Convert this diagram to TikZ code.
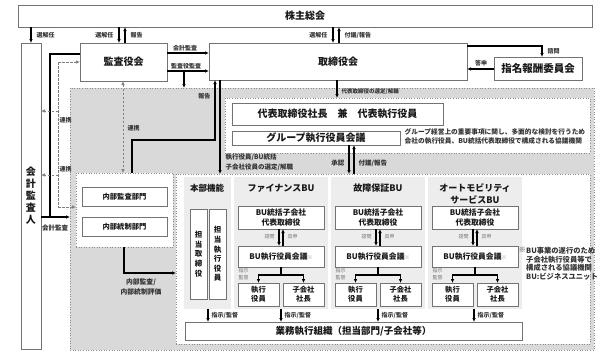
\documentclass[tikz,border=0pt]{standalone}
\usepackage{fontspec}
\setmainfont{Noto Sans CJK JP}
\usetikzlibrary{arrows.meta}
\newcommand\B[7]{\node[#1,anchor=north west,minimum width={#4pt-#2pt},minimum height={#5pt-#3pt}] (#6) at (#2,#3) {#7};}
\tikzset{
  box/.style={draw=black!55, fill=white, line width=0.6pt, inner sep=0pt, outer sep=0pt, align=center, text=black!90},
  wreg/.style={draw=black!45, fill=white, dotted, line width=0.6pt, inner sep=0pt, outer sep=0pt},
  greg/.style={draw=black!45, fill=black!15, dotted, line width=0.6pt, inner sep=0pt, outer sep=0pt},
  big/.style={font=\bfseries\fontsize{10}{12}\selectfont},
  ttl/.style={font=\bfseries\fontsize{9}{12}\selectfont, align=center, inner sep=0pt, text=black!90},
  mid/.style={font=\bfseries\fontsize{7.8}{9.5}\selectfont},
  sml/.style={font=\bfseries\fontsize{7.3}{9}\selectfont},
  vert/.style={font=\bfseries\fontsize{7.5}{9.6}\selectfont},
  thk/.style={line width=1.6pt, black},
  thn/.style={line width=1.1pt, black},
  dsh/.style={line width=0.9pt, black!50, dash pattern=on 2.5pt off 1.5pt},
  lab/.style={font=\bfseries\fontsize{6}{7.5}\selectfont, inner sep=0.5pt, text=black!80, align=left},
  tny/.style={font=\fontsize{5}{6.5}\selectfont, inner sep=0.3pt, text=black!55, align=left},
  >={Latex[length=4pt,width=3.6pt]}
}
\begin{document}
\begin{tikzpicture}[x=1pt,y=-1pt]
\fill[white] (0,0) rectangle (606,354);
\useasboundingbox (0,0) rectangle (606,354);

% top level boxes
\B{box,big}{18}{5}{592}{27}{kabu}{株主総会}
\B{box,font=\bfseries\fontsize{10}{12}\selectfont}{21}{43}{41}{349}{kaikei}{会\\計\\監\\査\\人}
\B{box,big}{80}{43}{167}{81}{kansa}{監査役会}
\B{box,big}{209}{43}{467}{80}{tori}{取締役会}
\B{box,font=\bfseries\fontsize{10.5}{12}\selectfont}{494}{57}{582}{80}{shimei}{指名報酬委員会}

% regions
\B{greg}{70}{88}{594}{350}{gray}{}
\B{wreg}{225}{98}{590}{153}{top}{}
\B{box,big}{232}{103}{443}{125}{daihyo}{代表取締役社長\hspace{1em}兼\hspace{1em}代表執行役員}
\B{box,big}{232}{131}{400}{145}{group}{グループ執行役員会議}
\node[lab,font=\bfseries\fontsize{6.7}{9}\selectfont,anchor=north west] (descr) at (404,128) {グループ経営上の重要事項に関し、多面的な検討を行うため\\会社の執行役員、BU統括代表取締役で構成される協議機関};

\B{wreg}{76}{173}{173}{247}{naibu}{}
\B{box,sml}{82}{187}{167}{206}{kansabu}{内部監査部門}
\B{box,sml}{82}{217}{167}{236}{toseibu}{内部統制部門}

\B{wreg}{176}{174}{590}{344}{bu}{}
\fill[black!7] (184,177) rectangle (231,309);
\fill[black!7] (234,177) rectangle (328,309);
\fill[black!7] (331,177) rectangle (425,309);
\fill[black!7] (428,177) rectangle (522,309);

% column titles
\node[ttl,font=\bfseries\fontsize{8.5}{12}\selectfont] (thon) at (207,188) {本部機能};
\node[ttl] (tfin) at (281,188) {ファイナンスBU};
\node[ttl] (tkos) at (378,188) {故障保証BU};
\node[ttl] (taut) at (475,194) {オートモビリティ\\サービスBU};

% honbu boxes
\B{box,vert}{190}{209}{207}{299}{htori}{担\\当\\取\\締\\役}
\B{box,vert}{209}{209}{226}{299}{hshik}{担\\当\\執\\行\\役\\員}

% Finance
\B{box,mid}{238}{206}{324}{229}{fA}{BU統括子会社\\代表取締役}
\B{box,mid}{238}{246}{324}{267}{fB}{BU執行役員会議{\mdseries\color{black!45}\fontsize{5}{6}\selectfont ※}}
\B{box,sml}{238}{283}{279}{306}{fC}{執行\\役員}
\B{box,sml}{283}{283}{324}{306}{fD}{子会社\\社長}
% Kosho
\B{box,mid}{335}{206}{421}{229}{kA}{BU統括子会社\\代表取締役}
\B{box,mid}{335}{246}{421}{267}{kB}{BU執行役員会議{\mdseries\color{black!45}\fontsize{5}{6}\selectfont ※}}
\B{box,sml}{335}{283}{376}{306}{kC}{執行\\役員}
\B{box,sml}{380}{283}{421}{306}{kD}{子会社\\社長}
% Auto
\B{box,mid}{432}{206}{518}{229}{aA}{BU統括子会社\\代表取締役}
\B{box,mid}{432}{246}{518}{267}{aB}{BU執行役員会議{\mdseries\color{black!45}\fontsize{5}{6}\selectfont ※}}
\B{box,sml}{432}{283}{473}{306}{aC}{執行\\役員}
\B{box,sml}{477}{283}{518}{306}{aD}{子会社\\社長}

\foreach \p/\cx in {f/281,k/378,a/475}{
  \draw[thn,->] (\p A.south -| {\cx-2},0) -- (\p B.north -| {\cx-2},0);
  \draw[thn,->] (\p B.north -| {\cx+2},0) -- (\p A.south -| {\cx+2},0);
  \node[tny,anchor=east] at ({\cx-6},237) {諮問};
  \node[tny,anchor=west] at ({\cx+6},237) {具申};
  \draw[thn] (\p B.south) -- ++(0,8) coordinate (\p br);
  \draw[thn,->] (\p br) -| (\p C.north);
  \draw[thn,->] (\p br) -| (\p D.north);
  \node[tny,anchor=north west] at ({\cx-43},268) {指示\\監督};
}

% note
\node[lab,font=\bfseries\fontsize{7.3}{8.7}\selectfont,anchor=north east,inner sep=0pt] (kome) at (526,247) {※};
\node[lab,font=\bfseries\fontsize{7.3}{8.7}\selectfont,anchor=north west,inner sep=0pt] (note) at (526,247) {BU事業の遂行のため\\子会社執行役員等で\\構成される協議機関\\BU:ビジネスユニット};

% gyomu
\B{box,font=\bfseries\fontsize{9.5}{12}\selectfont}{185}{322}{522}{340}{gyomu}{業務執行組織（担当部門/子会社等）}
\foreach \x in {208,281,378,474}{
  \coordinate (s\x) at (\x,309);
  \draw[thn,->] (s\x) -- (gyomu.north -| \x,0);
  \node[lab,anchor=west] at (\x+3,315) {指示/監督};
}

% shareholders arrows
\draw[thn,->] (kabu.south -| 31,0) -- (kaikei.north -| 31,0);
\node[lab,anchor=west] at (36,35) {選解任};
\draw[thn,->] (kabu.south -| 119,0) -- (kansa.north -| 119,0);
\draw[thn,->] (kansa.north -| 125,0) -- (kabu.south -| 125,0);
\node[lab,anchor=east] at (114,35) {選解任};
\node[lab,anchor=west] at (130,35) {報告};
\draw[thn,->] (kabu.south -| 333,0) -- (tori.north -| 333,0);
\draw[thn,->] (tori.north -| 339,0) -- (kabu.south -| 339,0);
\node[lab,anchor=east] at (328,35) {選解任};
\node[lab,anchor=west] at (344,35) {付議/報告};

% kansa -> tori
\draw[thn,->] (kansa.east |- 0,53) -- (tori.west |- 0,53);
\node[lab] at (185,48) {会計監査};
\draw[thn,->] (kansa.east |- 0,71) -- (tori.west |- 0,71);
\node[lab] at (186,66) {監査役監査};
\coordinate (kb) at (184,71);
\draw[thn,->] (kb) -- (gray.north -| kb);

% tori <-> shimei
\draw[thn,->] (tori.east |- 0,46) -| (shimei.north -| 542,0);
\node[lab,anchor=west] at (547,51) {諮問};
\draw[thn,->] (shimei.west |- 0,69) -- (tori.east |- 0,69);
\node[lab] at (481,63) {答申};

% tori -> top region
\draw[thn,->] (tori.south -| 337,0) -- (top.north -| 337,0);
\node[lab,font=\bfseries\fontsize{5.5}{7}\selectfont,anchor=west] at (341,92) {代表取締役の選定/解職};

% report thick
\draw[thk,->] (naibu.north -| 132,0) |- (215,140) -- (tori.south -| 215,0);
\node[lab,anchor=east] at (211,96) {報告};
\draw[thk,->] (tori.south -| 220,0) -- (bu.north -| 220,0);
\node[lab,font=\bfseries\fontsize{6.5}{10}\selectfont,anchor=north west] at (225,153) {執行役員/BU統括\\子会社役員の選定/解職};

% group <-> bu
\draw[thn,->] (group.south -| 349,0) -- (bu.north -| 349,0);
\draw[thn,->] (bu.north -| 354,0) -- (group.south -| 354,0);
\node[lab,font=\bfseries\fontsize{6.5}{8}\selectfont,anchor=east] at (345,163) {承認};
\node[lab,font=\bfseries\fontsize{6.5}{8}\selectfont,anchor=west] at (358,163) {付議/報告};

% left side
\draw[thk] (kansa.west |- 0,54) -| (50,217);
\draw[thk,->] (kaikei.east |- 0,217) -- (gray.west |- 0,217);
\node[lab,font=\bfseries\fontsize{6.5}{8}\selectfont] at (55,228) {会計監査};
\coordinate (d0) at (58,62);
\coordinate (d1) at (58,111);
\coordinate (d2) at (58,175);
\coordinate (d3) at (58,207);
\draw[dsh] (d0) -- (d3);
\draw[dsh,->] (d0) -- (kansa.west |- d0);
\draw[dsh,->] (d1) -- (kaikei.east |- d1);
\draw[dsh,->] (d2) -- (kaikei.east |- d2);
\draw[dsh,->] (d3) -- (naibu.west |- d3);
\node[lab,anchor=west] at (59,120) {連携};
\node[lab,anchor=west] at (59,169) {連携};
\draw[dsh,<->] (kansa.south -| 123,0) -- (naibu.north -| 123,0);
\node[lab,anchor=west] at (127,128) {連携};

% internal audit -> BU
\draw[thk,->] (naibu.south -| 124,0) |- (bu.west |- 0,273);
\node[lab,font=\bfseries\fontsize{6.8}{10}\selectfont,align=center] at (141,287) {内部監査/\\内部統制評価};
\end{tikzpicture}
\end{document}
